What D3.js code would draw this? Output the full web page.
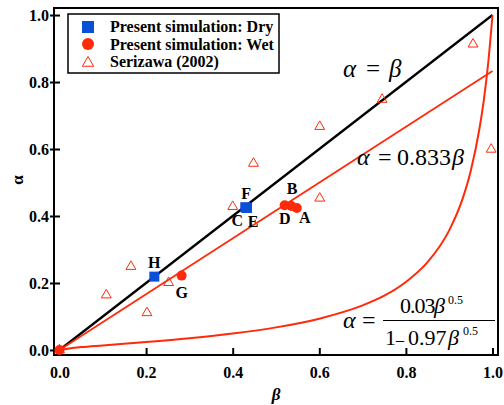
<!DOCTYPE html>
<html>
<head>
<meta charset="utf-8">
<script src="https://cdn.jsdelivr.net/npm/d3@7"></script>
<style>
body { margin: 0; background: #fff; }
svg { display: block; }
text { font-family: "Liberation Serif", "Times New Roman", serif; }
</style>
</head>
<body>
<div id="chart"></div>
<script>
// values
var tickValues = [0, 0.2, 0.4, 0.6, 0.8, 1.0];

var dryNames = ["H", "F", "C", "E"];
var dryBeta = [0.219, 0.431, 0.429, 0.433];
var dryAlpha = [0.219, 0.425, 0.426, 0.424];

var wetNames = ["O", "G", "D", "B", "A"];
var wetBeta = [0.0, 0.282, 0.52, 0.535, 0.548];
var wetAlpha = [0.0, 0.222, 0.432, 0.430, 0.424];

var serBeta = [0.0, 0.108, 0.165, 0.202, 0.252, 0.400, 0.448, 0.601, 0.601, 0.745, 0.955, 0.997];
var serAlpha = [0.0, 0.164, 0.249, 0.111, 0.201, 0.428, 0.557, 0.453, 0.667, 0.748, 0.913, 0.599];

// lines alpha = beta and alpha = 0.833 beta
var lineBeta = [0, 1];
var eqAlpha = [0, 1];
var slipAlpha = [0, 0.833];

// Serizawa curve
var curveBeta = [0, 0.05, 0.1, 0.2, 0.3, 0.4, 0.5, 0.6, 0.7, 0.75, 0.8, 0.85, 0.9, 0.93, 0.95, 0.97, 0.98, 0.99, 1.0];
var curveAlpha = [0, 0.0086, 0.0137, 0.0237, 0.0351, 0.0491, 0.0675, 0.0935, 0.133, 0.162, 0.203, 0.262, 0.357, 0.448, 0.536, 0.662, 0.747, 0.856, 1.0];

var red = "#ff2a0a";
var blue = "#0a4fd8";

var width = 504, height = 405;
var svg = d3.select("#chart").append("svg").attr("width", width).attr("height", height);

var x = d3.scaleLinear().domain([-0.0127, 1.0127]).range([54, 498]);
var y = d3.scaleLinear().domain([-0.015, 1.021]).range([355, 8]);

// x axis
var xAxis = svg.append("g").attr("transform", "translate(0,355)")
  .call(d3.axisBottom(x).tickValues(tickValues).tickFormat(d3.format(".1f")).tickSizeInner(-7).tickSizeOuter(0).tickPadding(12));
xAxis.select(".domain").remove();
xAxis.selectAll(".tick line").attr("stroke", "#000").attr("stroke-width", 2).attr("y1", 1);
xAxis.selectAll(".tick text").attr("font-family", "Liberation Serif").attr("font-weight", "bold").attr("font-size", 16).attr("fill", "#000");

// y axis
var yAxis = svg.append("g").attr("transform", "translate(54,0)")
  .call(d3.axisLeft(y).tickValues(tickValues).tickFormat(d3.format(".1f")).tickSizeInner(-6).tickSizeOuter(0).tickPadding(5));
yAxis.select(".domain").remove();
yAxis.selectAll(".tick line").attr("stroke", "#000").attr("stroke-width", 2).attr("x1", -4);
yAxis.selectAll(".tick text").attr("font-family", "Liberation Serif").attr("font-weight", "bold").attr("font-size", 16).attr("fill", "#000").attr("dy", "0.34em");

// frame
svg.append("rect").attr("x", 54).attr("y", 8).attr("width", 444).attr("height", 347)
  .attr("fill", "none").attr("stroke", "#000").attr("stroke-width", 2);

var line = d3.line().x(function(d) { return x(d[0]); }).y(function(d) { return y(d[1]); });

svg.append("path").attr("d", line(d3.zip(lineBeta, eqAlpha)))
  .attr("fill", "none").attr("stroke", "#000").attr("stroke-width", 2.3);
svg.append("path").attr("d", line(d3.zip(lineBeta, slipAlpha)))
  .attr("fill", "none").attr("stroke", red).attr("stroke-width", 1.8);
svg.append("path").attr("d", line.curve(d3.curveMonotoneX)(d3.zip(curveBeta, curveAlpha)))
  .attr("fill", "none").attr("stroke", red).attr("stroke-width", 2);

// Serizawa triangles
var tri = d3.symbol().type(d3.symbolTriangle).size(42);
svg.selectAll(".ser").data(d3.zip(serBeta, serAlpha)).enter().append("path")
  .attr("class", "ser")
  .attr("d", tri)
  .attr("transform", function(d) { return "translate(" + x(d[0]) + "," + y(d[1]) + ")"; })
  .attr("fill", "none").attr("stroke", red).attr("stroke-width", 1);

// dry squares
svg.selectAll(".dry").data(d3.zip(dryBeta, dryAlpha)).enter().append("rect")
  .attr("class", "dry")
  .attr("x", function(d) { return x(d[0]) - 5; })
  .attr("y", function(d) { return y(d[1]) - 5; })
  .attr("width", 10).attr("height", 10)
  .attr("fill", blue);

// wet circles
svg.selectAll(".wet").data(d3.zip(wetBeta, wetAlpha)).enter().append("circle")
  .attr("class", "wet")
  .attr("cx", function(d) { return x(d[0]); })
  .attr("cy", function(d) { return y(d[1]); })
  .attr("r", 5)
  .attr("fill", red);

// point labels, offsets in px from their marker
var labelOffset = { H: [0, -9], F: [0, -9], C: [-8, 19], E: [6, 19], B: [1, -12], D: [0, 19], A: [8, 15], G: [0, 22] };
var pts = {};
dryNames.forEach(function(n, i) { pts[n] = [dryBeta[i], dryAlpha[i]]; });
wetNames.forEach(function(n, i) { pts[n] = [wetBeta[i], wetAlpha[i]]; });
Object.keys(labelOffset).forEach(function(n) {
  svg.append("text")
    .attr("x", x(pts[n][0]) + labelOffset[n][0])
    .attr("y", y(pts[n][1]) + labelOffset[n][1])
    .attr("text-anchor", "middle")
    .attr("font-weight", "bold").attr("font-size", 16)
    .text(n);
});

// axis titles
svg.append("text").attr("x", 276).attr("y", 400).attr("text-anchor", "middle")
  .attr("font-family", "Liberation Sans").attr("font-weight", "bold").attr("font-style", "italic").attr("font-size", 17)
  .text("β");
svg.append("text").attr("transform", "translate(23,180) rotate(-90)").attr("text-anchor", "middle")
  .attr("font-weight", "bold").attr("font-size", 17)
  .text("α");

// legend
var lg = svg.append("g");
lg.append("rect").attr("x", 68).attr("y", 14).attr("width", 211).attr("height", 59)
  .attr("fill", "#fff").attr("stroke", "#000").attr("stroke-width", 1.5);
lg.append("rect").attr("x", 82).attr("y", 21).attr("width", 12).attr("height", 12).attr("fill", blue);
lg.append("circle").attr("cx", 88).attr("cy", 44).attr("r", 6).attr("fill", red);
lg.append("path").attr("d", d3.symbol().type(d3.symbolTriangle).size(55)())
  .attr("transform", "translate(88,63)").attr("fill", "none").attr("stroke", red).attr("stroke-width", 1);
var legendText = ["Present simulation: Dry", "Present simulation: Wet", "Serizawa (2002)"];
var legendY = [32, 49.5, 67];
legendText.forEach(function(t, i) {
  lg.append("text").attr("x", 110).attr("y", legendY[i]).attr("font-weight", "bold").attr("font-size", 16).text(t);
});

// equation labels
function piece(px, py, str, size, italic, spacing) {
  return svg.append("text").attr("x", px).attr("y", py).attr("font-size", size)
    .attr("font-style", italic ? "italic" : "normal")
    .attr("letter-spacing", spacing || 0)
    .text(str);
}
piece(343, 77, "α", 25, true);
piece(366, 77, "=", 25, false);
piece(389, 77, "β", 25, true);

piece(357, 165, "α", 24, true);
piece(378, 165, "=", 24, false);
piece(397, 165, "0.833", 24, false);
piece(452, 165, "β", 24, true);

piece(343, 328, "α", 24, true);
piece(362, 328, "=", 24, false);
piece(400, 313, "0.03", 22, false, -1);
piece(434, 313, "β", 22, true);
piece(448, 304, "0.5", 12, false);
svg.append("line").attr("x1", 383).attr("x2", 495).attr("y1", 320.5).attr("y2", 320.5)
  .attr("stroke", "#000").attr("stroke-width", 1.2);
piece(385, 345, "1", 22, false);
piece(396, 345, "–", 16, false);
piece(408, 345, "0.97", 22, false);
piece(448, 345, "β", 22, true);
piece(463, 335, "0.5", 12, false);
</script>
</body>
</html>
